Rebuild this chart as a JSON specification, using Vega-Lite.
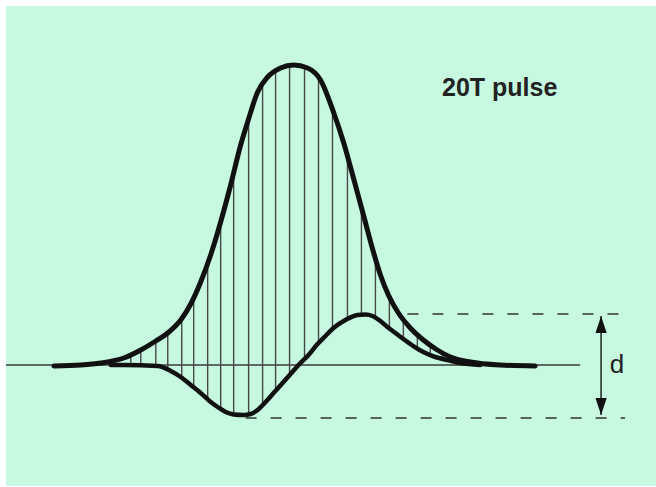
{
  "$schema": "https://vega.github.io/schema/vega-lite/v6.json",
  "width": 656,
  "height": 487,
  "autosize": {"type": "fit", "contains": "padding"},
  "padding": {"left": 5, "top": 6, "right": 0, "bottom": 1},
  "background": "white",
  "config": {"view": {"stroke": null, "fill": "#c6f9df"}},
  "datasets": {
    "upper": [
      {"x": -34.29, "y": -0.33}, {"x": -30.43, "y": 0}, {"x": -27.57, "y": 0.67}, {"x": -24.29, "y": 2.33},
      {"x": -21.86, "y": 5}, {"x": -19.71, "y": 8}, {"x": -18, "y": 10.67}, {"x": -16.14, "y": 15},
      {"x": -14.71, "y": 20.33}, {"x": -13.29, "y": 27.67}, {"x": -11.86, "y": 36.67}, {"x": -10.43, "y": 47.67},
      {"x": -9, "y": 60}, {"x": -7.57, "y": 73.33}, {"x": -6.57, "y": 81}, {"x": -5.14, "y": 91},
      {"x": -3.71, "y": 96}, {"x": -1.86, "y": 99}, {"x": 0, "y": 100}, {"x": 2, "y": 99},
      {"x": 3.86, "y": 95}, {"x": 5.71, "y": 84.33}, {"x": 7.14, "y": 74.33}, {"x": 8.57, "y": 62.33},
      {"x": 10, "y": 50}, {"x": 11.43, "y": 37.67}, {"x": 12.43, "y": 30}, {"x": 13.57, "y": 23.33},
      {"x": 15, "y": 17.33}, {"x": 16.71, "y": 12.33}, {"x": 18.57, "y": 8.33}, {"x": 20.57, "y": 5},
      {"x": 22.43, "y": 2.67}, {"x": 25.29, "y": 1}, {"x": 29.57, "y": 0}, {"x": 34.57, "y": -0.33}
    ],
    "lower": [
      {"x": -26.14, "y": 0}, {"x": -24.29, "y": 0}, {"x": -19.43, "y": -0.33}, {"x": -17.57, "y": -2},
      {"x": -16.14, "y": -4}, {"x": -14.71, "y": -6.67}, {"x": -13.29, "y": -9.33}, {"x": -11.86, "y": -12.33},
      {"x": -10.86, "y": -14}, {"x": -9.71, "y": -15.67}, {"x": -8.57, "y": -16.5}, {"x": -7.14, "y": -16.67},
      {"x": -6.14, "y": -16.33}, {"x": -5.14, "y": -15}, {"x": -4, "y": -12.33}, {"x": -2.86, "y": -9.33},
      {"x": -1.57, "y": -6}, {"x": -0.43, "y": -3}, {"x": 0.71, "y": 0}, {"x": 2.14, "y": 3.33},
      {"x": 3.43, "y": 7}, {"x": 4.57, "y": 9.67}, {"x": 5.71, "y": 12.33}, {"x": 7.43, "y": 15},
      {"x": 9.14, "y": 16.67}, {"x": 10.29, "y": 16.83}, {"x": 11.29, "y": 16.33}, {"x": 12.43, "y": 14.67},
      {"x": 13.43, "y": 12.67}, {"x": 14.57, "y": 10.67}, {"x": 15.71, "y": 8.67}, {"x": 17.14, "y": 6.33},
      {"x": 18.57, "y": 4.33}, {"x": 20.29, "y": 2.67}, {"x": 22, "y": 1.67}, {"x": 23.86, "y": 0.67},
      {"x": 26.71, "y": 0}
    ],
    "hatch": [
      {"x": -23.29, "y": 0, "y2": 3.43}, {"x": -21.86, "y": 0, "y2": 5}, {"x": -19.71, "y": -0.17, "y2": 8},
      {"x": -18, "y": -1.33, "y2": 10.67}, {"x": -16, "y": -4.33, "y2": 15.67}, {"x": -14.29, "y": -7.5, "y2": 22.67},
      {"x": -12.29, "y": -11.33, "y2": 34}, {"x": -10.43, "y": -15, "y2": 47.67}, {"x": -8.57, "y": -16.5, "y2": 64},
      {"x": -6.43, "y": -16.67, "y2": 82}, {"x": -4.43, "y": -13.67, "y2": 93.67}, {"x": -2.57, "y": -8.67, "y2": 98},
      {"x": -0.57, "y": -3.33, "y2": 99.83}, {"x": 1.57, "y": 1.33, "y2": 99.17}, {"x": 3.57, "y": 7.33, "y2": 95.67},
      {"x": 5.57, "y": 12, "y2": 85}, {"x": 7.71, "y": 15.33, "y2": 69.67}, {"x": 9.71, "y": 16.77, "y2": 52.33},
      {"x": 11.71, "y": 15.83, "y2": 35.33}, {"x": 13.71, "y": 12.5, "y2": 22.67}, {"x": 15.71, "y": 8.67, "y2": 15.33},
      {"x": 17.71, "y": 5.33, "y2": 10.17}, {"x": 19.57, "y": 3.67, "y2": 6.67}, {"x": 21.29, "y": 2.33, "y2": 4}
    ],
    "baseline": [{"x": -41.14, "x2": 41, "y": 0}],
    "dashed": [
      {"x": 16.29, "x2": 47.43, "y": 17},
      {"x": -6.86, "x2": 47.43, "y": -17.67}
    ],
    "shaft": [{"x": 44, "y": -16.67, "y2": 16.33}],
    "headUp": [{"x": 44, "y": 16.33}],
    "headDown": [{"x": 44, "y": -16.67}],
    "title": [{"x": 21.24, "y": 89.67, "label": "20T pulse"}],
    "dlabel": [{"x": 46.29, "y": -2.78, "label": "d"}]
  },
  "encoding": {
    "x": {"field": "x", "type": "quantitative", "axis": null, "scale": {"domain": [-41.143, 51.857], "nice": false, "zero": false}},
    "y": {"field": "y", "type": "quantitative", "axis": null, "scale": {"domain": [-40.333, 119.667], "nice": false, "zero": false}}
  },
  "layer": [
    {
      "data": {"name": "baseline"},
      "mark": {"type": "rule", "color": "#3a3a3a", "strokeWidth": 1.3},
      "encoding": {"x2": {"field": "x2"}}
    },
    {
      "data": {"name": "hatch"},
      "mark": {"type": "rule", "color": "#474747", "strokeWidth": 1.4},
      "encoding": {"y2": {"field": "y2"}}
    },
    {
      "data": {"name": "dashed"},
      "mark": {"type": "rule", "color": "#333333", "strokeWidth": 1.6, "strokeDash": [11, 14]},
      "encoding": {"x2": {"field": "x2"}}
    },
    {
      "data": {"name": "upper"},
      "mark": {"type": "line", "color": "#111111", "strokeWidth": 5, "interpolate": "monotone", "strokeCap": "round"},
      "encoding": {}
    },
    {
      "data": {"name": "lower"},
      "mark": {"type": "line", "color": "#111111", "strokeWidth": 4.5, "interpolate": "monotone", "strokeCap": "round"},
      "encoding": {}
    },
    {
      "data": {"name": "shaft"},
      "mark": {"type": "rule", "color": "#222222", "strokeWidth": 1.5},
      "encoding": {"y2": {"field": "y2"}}
    },
    {
      "data": {"name": "headUp"},
      "mark": {"type": "point", "filled": true, "opacity": 1, "color": "#111111", "strokeWidth": 0, "size": 1156, "shape": "M0,0L-0.33,1L0.33,1Z"}
    },
    {
      "data": {"name": "headDown"},
      "mark": {"type": "point", "filled": true, "opacity": 1, "color": "#111111", "strokeWidth": 0, "size": 1156, "shape": "M0,0L-0.33,-1L0.33,-1Z"}
    },
    {
      "data": {"name": "title"},
      "mark": {"type": "text", "align": "left", "baseline": "alphabetic", "font": "Liberation Sans", "fontSize": 25, "fontWeight": "bold", "color": "#222222"},
      "encoding": {"text": {"field": "label"}}
    },
    {
      "data": {"name": "dlabel"},
      "mark": {"type": "text", "align": "center", "baseline": "alphabetic", "font": "Liberation Sans", "fontSize": 26, "color": "#222222"},
      "encoding": {"text": {"field": "label"}}
    }
  ]
}
